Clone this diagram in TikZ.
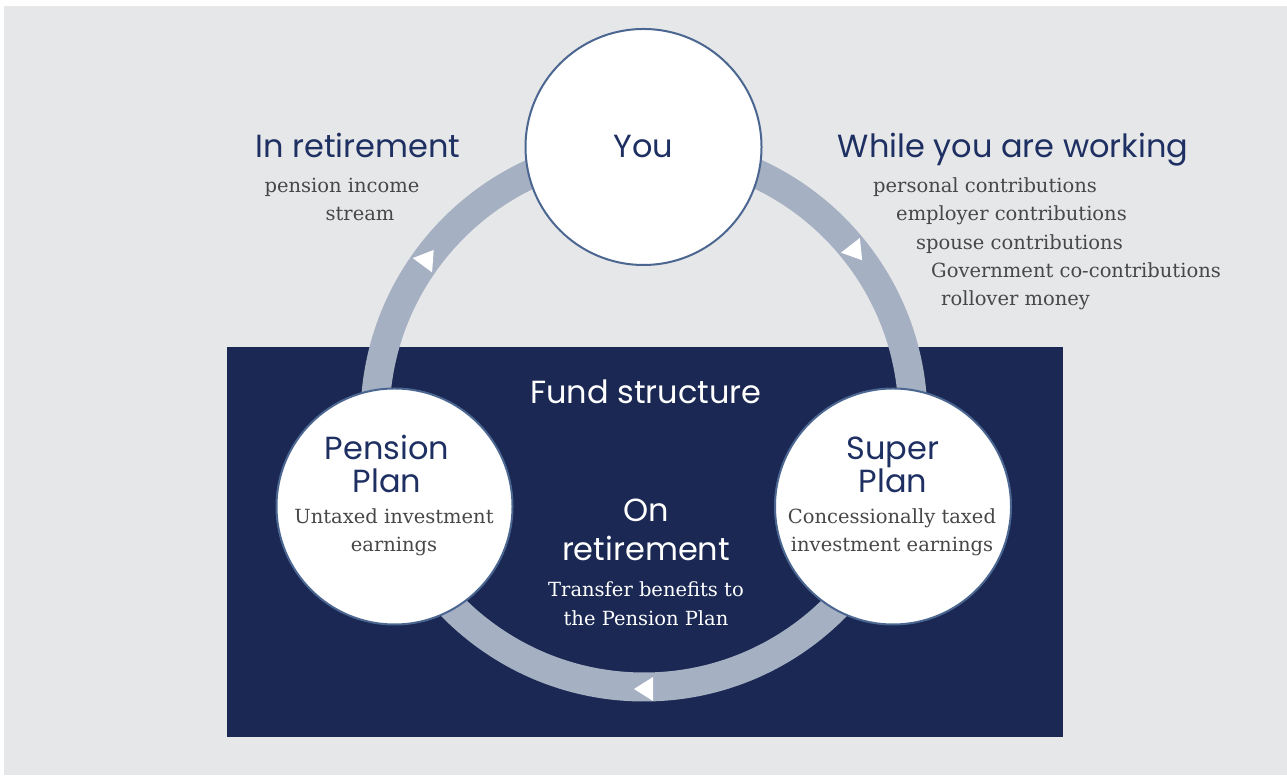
\documentclass[tikz,border=0pt]{standalone}
\usepackage{fontspec}
\setmainfont{DejaVu Serif}
\newfontfamily\titlefont{Poppins}
\definecolor{bggray}{HTML}{E6E7E9}
\definecolor{navy}{HTML}{1A2853}
\definecolor{ringc}{HTML}{A5B0C3}
\definecolor{rimc}{HTML}{4B6791}
\definecolor{titlec}{HTML}{1E2F62}
\definecolor{bodyc}{HTML}{474747}
\tikzset{
  bubble/.style={circle, fill=white, draw=rimc, line width=2pt, minimum size=236pt, inner sep=0pt},
  ttl/.style={font=\titlefont\fontsize{32}{35}\selectfont, text=titlec, inner sep=0pt, anchor=base},
  ttlw/.style={ttl, text=white},
  bdy/.style={font=\fontsize{19.5}{22}\selectfont, text=bodyc, inner sep=0pt, anchor=base},
  bdyw/.style={bdy, text=white},
  tri/.style={fill=white}
}
\begin{document}
\begin{tikzpicture}[x=1pt,y=1pt]
\useasboundingbox (0,0) rectangle (1287,778);
\fill[white] (0,0) rectangle (1287,778);
\fill[bggray] (4,3) rectangle (1287,772);
\fill[navy] (227,41) rectangle (1063,431);
% ring
\coordinate (rc) at (644,360);
\draw[ringc, line width=29pt] (rc) circle[radius=269];
\begin{scope}[shift={(rc)}]
  \fill[tri, shift={(143.5:269)}, rotate=53.5] (10,0) -- (-9,12) -- (-9,-12) -- cycle;
  \fill[tri, shift={(38:269)}, rotate=-52] (10,0) -- (-9,12) -- (-9,-12) -- cycle;
  \fill[tri, shift={(-90:271)}, rotate=180] (10,0) -- (-9,12) -- (-9,-12) -- cycle;
\end{scope}
% circles
\node[bubble] (you) at (643.5,631) {};
\node[bubble] (pension) at (394.5,271.5) {};
\node[bubble] (super) at (893,271.5) {};
% texts in circles
\node[ttl] (youT) at (643.5,620) {You};
\node[ttl] (penA) at (387,318) {Pension};
\node[ttl] (penB) at (387,285.5) {Plan};
\node[bdy] (penC) at (394,254) {Untaxed investment};
\node[bdy] (penD) at (394,226) {earnings};
\node[ttl] (supA) at (893,318) {Super};
\node[ttl] (supB) at (893,285.5) {Plan};
\node[bdy] (supC) at (892,254) {Concessionally taxed};
\node[bdy] (supD) at (892,226) {investment earnings};
% navy texts
\node[ttlw] (fund) at (646,374) {Fund structure};
\node[ttlw] (onA) at (646,256) {On};
\node[ttlw] (onB) at (646,217) {retirement};
\node[bdyw] (onC) at (646,181) {Transfer benefits to};
\node[bdyw] (onD) at (646,152) {the Pension Plan};
% outer texts
\node[ttl] (inret) at (358,620) {In retirement};
\node[bdy] (inA) at (342,585) {pension income};
\node[bdy] (inB) at (360,557) {stream};
\node[ttl] (while) at (1013,620) {While you are working};
\node[bdy, anchor=base west] (w1) at (873,585) {personal contributions};
\node[bdy, anchor=base west] (w2) at (896,557) {employer contributions};
\node[bdy, anchor=base west] (w3) at (916,528) {spouse contributions};
\node[bdy, anchor=base west] (w4) at (931,500) {Government co-contributions};
\node[bdy, anchor=base west] (w5) at (941,472) {rollover money};
\end{tikzpicture}
\end{document}
